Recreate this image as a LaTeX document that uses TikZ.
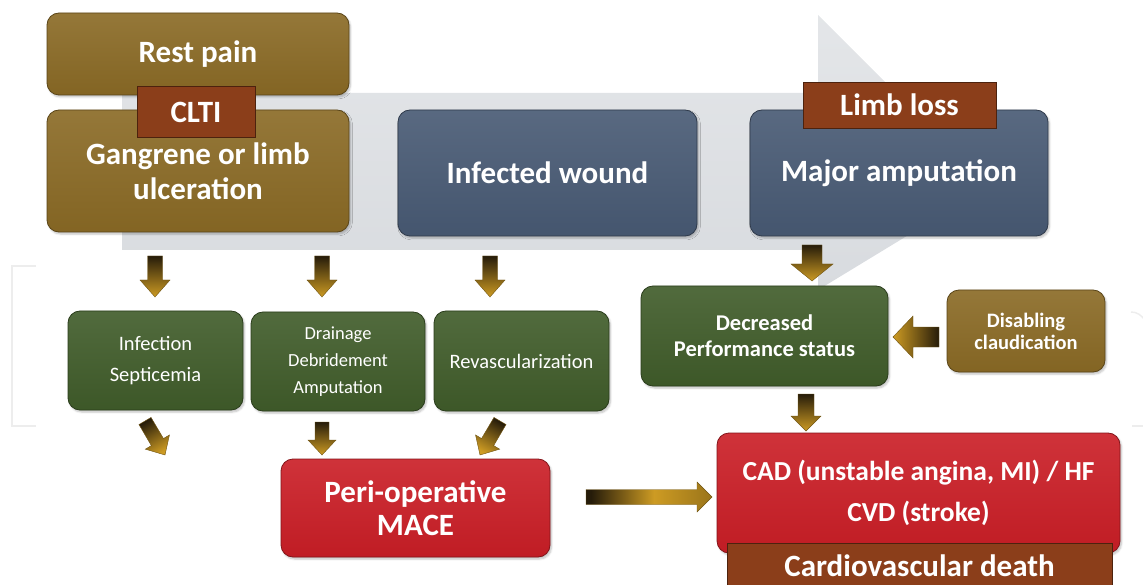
\documentclass[tikz,border=0pt]{standalone}
\usepackage{fontspec}
\setmainfont{Carlito}
\usepackage{tikz}
\usetikzlibrary{calc,shadows.blur}

\definecolor{ochre}{RGB}{138,106,37}
\definecolor{rust}{RGB}{139,62,26}
\definecolor{slate}{RGB}{72,90,116}
\definecolor{leaf}{RGB}{64,92,42}
\definecolor{alarm}{RGB}{202,30,38}
\definecolor{track}{RGB}{216,219,223}
\definecolor{arrgold}{RGB}{205,155,35}
\definecolor{arrdark}{RGB}{38,28,10}

\pgfdeclarehorizontalshading{goldbar}{100bp}{color(0bp)=(arrdark); color(27bp)=(arrdark);
    color(52bp)=(arrgold); color(75bp)=(arrgold!75!black); color(100bp)=(arrgold!75!black)}

\tikzset{
    box/.style={rounded corners=12pt, align=center, text=white, inner sep=2pt, line width=0.8pt,
        blur shadow={shadow xshift=1.5pt, shadow yshift=-2pt, shadow blur steps=5, shadow opacity=25}},
    card/.style={box, top color=#1!91!white, bottom color=#1!95!black, draw=#1!65!black},
    tag/.style={fill=rust, draw=rust!55!black, line width=0.8pt, text=white, inner sep=0pt,
        font=\bfseries\fontsize{31}{35}\selectfont},
    bigtext/.style={font=\bfseries\fontsize{31}{35}\selectfont}
}

% fat arrow: from, to, shading angle, shaft half width, head half width, head length
\newcommand{\fatarrow}[7][]{%
    \coordinate (hb) at ($(#3)!#7!(#2)$);
    \shade[shading=axis, top color=arrdark, bottom color=arrgold, shading angle=#4,
        draw=arrgold!55!black, line width=0.4pt, #1]
        ($(#2)!#5!90:(#3)$) -- ($(hb)!#5!90:(#3)$) -- ($(hb)!#6!90:(#3)$) -- (#3)
        -- ($(hb)!#6!-90:(#3)$) -- ($(hb)!#5!-90:(#3)$) -- ($(#2)!#5!-90:(#3)$) -- cycle;
}

\begin{document}
\begin{tikzpicture}[x=1pt, y=-1pt]
    \useasboundingbox (0,0) rectangle (1143,585);
    \clip (0,0) rectangle (1143,585);

    % faint page marks
    \draw[black!7, line width=1.5pt] (36,266) -- (12,266) -- (12,426) -- (36,426);
    \draw[black!7, line width=1.5pt] (1131,312) .. controls (1137,312) and (1141,315) .. (1145,320);
    \draw[black!7, line width=1.5pt] (1132,426) -- (1145,426);

    % big background arrow
    \shade[top color=track!70!white, bottom color=track] (122,93) -- (818,93) -- (818,15) -- (989,186)
        -- (818,290) -- (818,250) -- (122,250) -- cycle;

    % top row
    \node[card=ochre, bigtext, minimum width=302pt, minimum height=82pt] (rest) at (198,54) {Rest pain};
    \node[card=ochre, bigtext, minimum width=302pt, minimum height=122pt] (gangrene) at (198,171)
        {Gangrene or limb\\ulceration};
    \node[tag, minimum width=118pt, minimum height=51pt] (clti) at (196,112) {CLTI};
    \node[card=slate, bigtext, minimum width=299pt, minimum height=126pt] (wound) at (547.5,173) {Infected wound};
    \node[card=slate, bigtext, minimum width=298pt, minimum height=126pt] (amput) at (899,173) {Major amputation};
    \node[tag, minimum width=193pt, minimum height=46pt] (limbloss) at (899.5,105) {Limb loss};

    % middle row
    \node[card=leaf, font=\fontsize{20.5}{31}\selectfont, minimum width=175pt, minimum height=99pt] (infect)
        at (155.5,360.5) {Infection\\Septicemia};
    \node[card=leaf, font=\fontsize{18.5}{27}\selectfont, minimum width=174pt, minimum height=99pt] (drain)
        at (338,361.5) {Drainage\\Debridement\\Amputation};
    \node[card=leaf, font=\fontsize{20.5}{31}\selectfont, minimum width=175pt, minimum height=100pt] (revasc)
        at (521.5,361) {Revascularization};
    \node[card=leaf, font=\bfseries\fontsize{22.5}{26}\selectfont, minimum width=247pt, minimum height=100pt] (perf)
        at (764.5,336) {Decreased\\Performance status};
    \node[card=ochre, font=\bfseries\fontsize{20.5}{22}\selectfont, minimum width=158pt, minimum height=82pt] (claud)
        at (1026,331) {Disabling\\claudication};

    % bottom row
    \node[card=alarm, font=\bfseries\fontsize{31}{33}\selectfont, minimum width=269pt, minimum height=98pt] (mace)
        at (415.5,508) {Peri-operative\\MACE};
    \node[card=alarm, font=\bfseries\fontsize{27.5}{41}\selectfont, minimum width=403pt, minimum height=120pt] (cad)
        at (918.5,493) {CAD (unstable angina, MI) / HF\\CVD (stroke)};
    \node[tag, minimum width=385pt, minimum height=46pt] (cvdeath) at (919.5,566) {Cardiovascular death};

    % arrow end points
    \coordinate (t1a) at (155,256); \coordinate (t1b) at (155,297);
    \coordinate (t2a) at (322,256); \coordinate (t2b) at (322,297);
    \coordinate (t3a) at (490,256); \coordinate (t3b) at (490,297);
    \coordinate (t4a) at (812,245); \coordinate (t4b) at (812,281);
    \coordinate (b1a) at (145,421); \coordinate (b1b) at (165,455);
    \coordinate (b2a) at (322,422); \coordinate (b2b) at (322,455);
    \coordinate (b3a) at (500,421); \coordinate (b3b) at (480,455);
    \coordinate (pa) at (806,394);  \coordinate (pb) at (806,431);
    \coordinate (ca) at (939,337);  \coordinate (cb) at (893,337);
    \coordinate (ma) at (586,497);  \coordinate (mb) at (712,497);

    \fatarrow{t1a}{t1b}{0}{7.5pt}{15pt}{17pt}
    \fatarrow{t2a}{t2b}{0}{7.5pt}{15pt}{17pt}
    \fatarrow{t3a}{t3b}{0}{7.5pt}{15pt}{17pt}
    \fatarrow{t4a}{t4b}{0}{10pt}{21pt}{17pt}
    \fatarrow{b1a}{b1b}{30}{7pt}{14pt}{15pt}
    \fatarrow{b2a}{b2b}{0}{7pt}{14pt}{15pt}
    \fatarrow{b3a}{b3b}{-30}{7pt}{14pt}{15pt}
    \fatarrow{pa}{pb}{0}{8pt}{15pt}{15pt}
    \fatarrow{ca}{cb}{-90}{10pt}{21pt}{20pt}
    \fatarrow[shading=goldbar, shading angle=0]{ma}{mb}{0}{7.5pt}{15pt}{15pt}
\end{tikzpicture}
\end{document}
